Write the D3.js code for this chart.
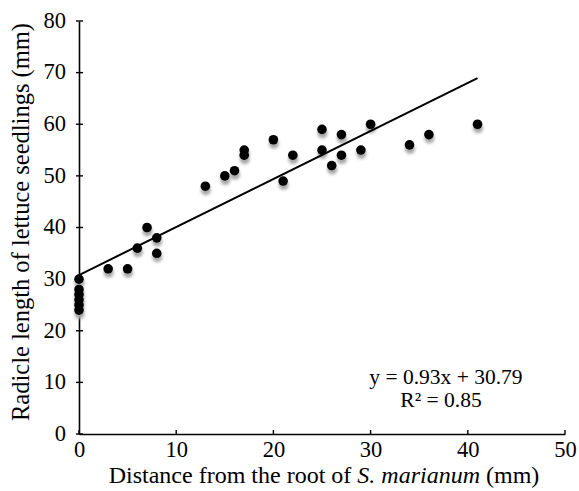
<!DOCTYPE html>
<html><head><meta charset="utf-8">
<script src="https://cdn.jsdelivr.net/npm/d3@7"></script>
<style>body{margin:0;background:#fff}svg{display:block}text{font-family:"Liberation Serif","Times New Roman",serif !important;fill:#000}</style>
</head><body><svg id="c" width="579" height="491"></svg>
<script>
const xValues = [0,0,0,0,0,0,3,5,6,7,8,8,13,15,16,17,17,20,21,22,25,25,26,27,27,29,30,34,36,41];
const yValues = [30,28,27,26,25,24,32,32,36,40,38,35,48,50,51,55,54,57,49,54,59,55,52,58,54,55,60,56,58,60];
const xTicks = [0,10,20,30,40,50];
const yTicks = [0,10,20,30,40,50,60,70,80];
const slope = 0.93, intercept = 30.79;
const trendRange = [0,41];
const eqText = "y = 0.93x + 30.79";
const r2Text = "R² = 0.85";

const svg = d3.select("#c");
const x = d3.scaleLinear().domain([0,50]).range([79,565]);
const y = d3.scaleLinear().domain([0,80]).range([434,21]);
const SERIF = "Liberation Serif";

const defs = svg.append("defs");
const f = defs.append("filter").attr("id","sh").attr("x","-50%").attr("y","-50%").attr("width","200%").attr("height","200%");
f.append("feGaussianBlur").attr("stdDeviation",1.5);

const ya = svg.append("g").attr("transform",`translate(${x(0)},0)`)
  .call(d3.axisLeft(y).tickValues(yTicks).tickSize(0).tickPadding(13));
ya.attr("font-family",SERIF);
ya.select(".domain").attr("stroke","#000").attr("stroke-width",1.6);
ya.selectAll("text").style("font-size","22.5px").attr("dy","0.28em");
svg.append("g").selectAll("line").data(yTicks).join("line")
  .attr("x1",x(0)-3).attr("x2",x(0)+4).attr("y1",d=>y(d)).attr("y2",d=>y(d))
  .attr("stroke","#000").attr("stroke-width",1.4);

const xa = svg.append("g").attr("transform",`translate(0,${y(0)})`)
  .call(d3.axisBottom(x).tickValues(xTicks).tickSize(0).tickPadding(7));
xa.attr("font-family",SERIF);
xa.select(".domain").attr("stroke","#000").attr("stroke-width",1.6);
xa.selectAll("text").style("font-size","22.5px");
svg.append("g").selectAll("line").data(xTicks).join("line")
  .attr("x1",d=>x(d)).attr("x2",d=>x(d)).attr("y1",y(0)-4).attr("y2",y(0))
  .attr("stroke","#000").attr("stroke-width",1.4);

const data = xValues.map((v,i)=>({x:v,y:yValues[i]}));
svg.append("g").attr("filter","url(#sh)").selectAll("circle").data(data).join("circle")
  .attr("cx",d=>x(d.x)+0.5).attr("cy",d=>y(d.y)+4).attr("r",5)
  .attr("fill","#a8a8a8");
svg.append("g").selectAll("circle").data(data).join("circle")
  .attr("cx",d=>x(d.x)).attr("cy",d=>y(d.y)).attr("r",4.8).attr("fill","#000");

svg.append("line")
  .attr("x1",x(trendRange[0])).attr("y1",y(intercept+slope*trendRange[0]))
  .attr("x2",x(trendRange[1])).attr("y2",y(intercept+slope*trendRange[1]))
  .attr("stroke","#000").attr("stroke-width",2);

svg.append("text").attr("x",446).attr("y",384).attr("text-anchor","middle").style("font-size","21.5px").text(eqText);
svg.append("text").attr("x",441).attr("y",407).attr("text-anchor","middle").style("font-size","21.5px").text(r2Text);

const xt = svg.append("text").attr("x",324).attr("y",483).attr("text-anchor","middle").style("font-size","24px");
xt.append("tspan").text("Distance from the root of ");
xt.append("tspan").attr("font-style","italic").text("S. marianum");
xt.append("tspan").text(" (mm)");
svg.append("text").attr("transform","translate(29,222) rotate(-90)").attr("text-anchor","middle").style("font-size","24.5px")
  .text("Radicle length of lettuce seedlings (mm)");
</script></body></html>
